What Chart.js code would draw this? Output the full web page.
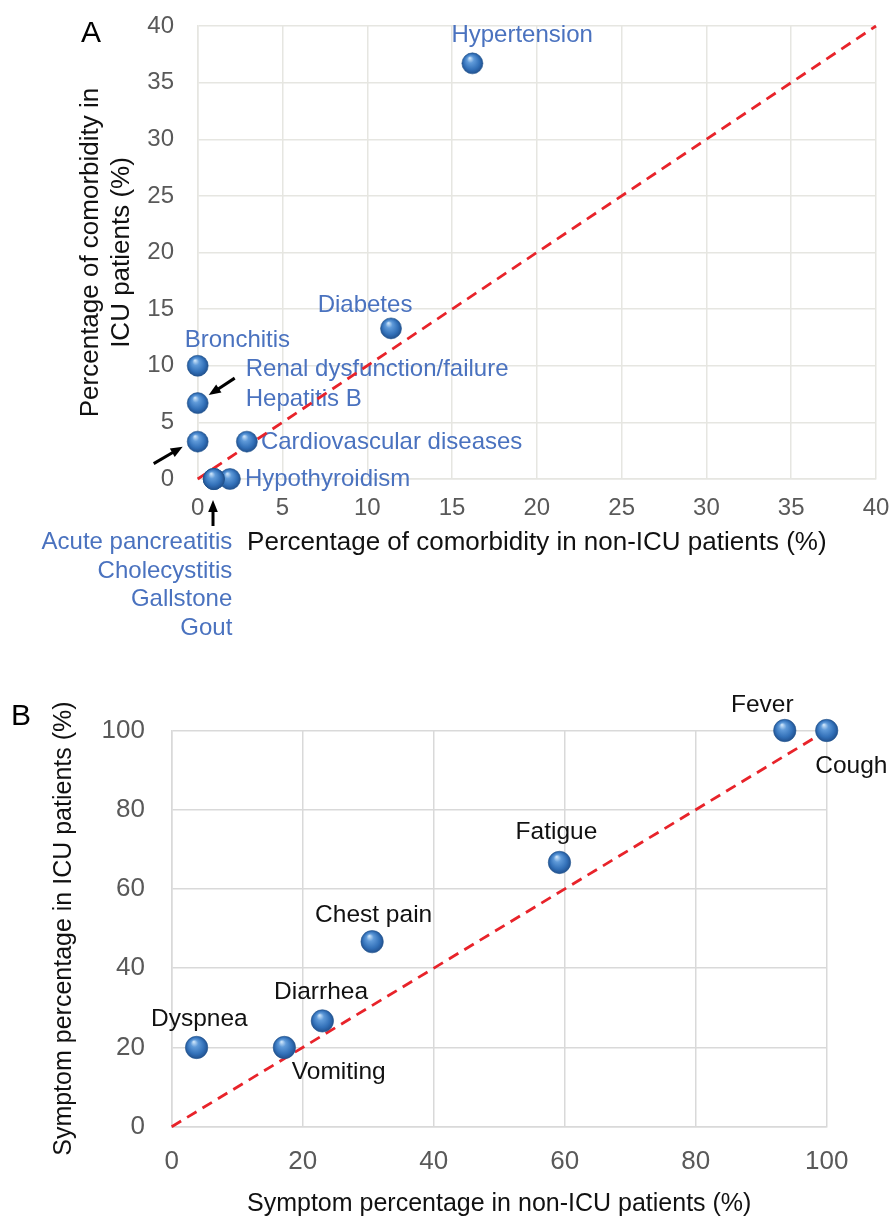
<!DOCTYPE html>
<html>
<head>
<meta charset="utf-8">
<script src="https://cdn.jsdelivr.net/npm/chart.js@4.4.0/dist/chart.umd.min.js"></script>
<style>
  body { margin: 0; background: #fff; }
  #wrap { position: relative; width: 891px; height: 1220px; }
  #panel-a { position: absolute; left: 0; top: 0; }
  #panel-b { position: absolute; left: 0; top: 650px; }
</style>
</head>
<body>
<div id="wrap">
  <canvas id="panel-a" width="891" height="650"></canvas>
  <canvas id="panel-b" width="891" height="570"></canvas>
</div>
<script>
// Panel A: comorbidities (% of patients)
const comorbidityNames = [
  "Hypertension",
  "Diabetes",
  "Bronchitis",
  "Renal dysfunction/failure",
  "Hepatitis B",
  "Cardiovascular diseases",
  "Hypothyroidism",
  "Acute pancreatitis",
  "Cholecystitis",
  "Gallstone",
  "Gout"
];
const comorbidityNonIcu = [16.2, 11.4, 0, 0, 0, 2.9, 1.9, 0.95, 0.95, 0.95, 0.95];
const comorbidityIcu = [36.7, 13.3, 10, 6.7, 3.3, 3.3, 0, 0, 0, 0, 0];
const comorbidityTicks = [0, 5, 10, 15, 20, 25, 30, 35, 40];

// Panel B: symptoms (% of patients)
const symptomNames = ["Fever", "Cough", "Fatigue", "Chest pain", "Diarrhea", "Dyspnea", "Vomiting"];
const symptomNonIcu = [93.6, 100, 59.2, 30.6, 23.0, 3.8, 17.2];
const symptomIcu = [100, 100, 66.7, 46.7, 26.7, 20, 20];
const symptomTicks = [0, 20, 40, 60, 80, 100];

// label placement relative to each marker (pixels)
const labelPlacementA = {
  "Hypertension": { dx: -21, dy: -28, align: "left" },
  "Diabetes": { dx: -26, dy: -23, align: "center" },
  "Bronchitis": { dx: -13, dy: -25, align: "left" },
  "Renal dysfunction/failure": { dx: 48, dy: -34, align: "left" },
  "Hepatitis B": { dx: 48, dy: -42, align: "left" },
  "Cardiovascular diseases": { dx: 14, dy: 1, align: "left" },
  "Hypothyroidism": { dx: 15, dy: 0, align: "left" },
  "Acute pancreatitis": { dx: 18.5, dy: 63.5, align: "right" },
  "Cholecystitis": { dx: 18.5, dy: 92, align: "right" },
  "Gallstone": { dx: 18.5, dy: 120.5, align: "right" },
  "Gout": { dx: 18.5, dy: 149, align: "right" }
};
const arrowsA = [
  { name: "Renal dysfunction/failure", from: [37, -25], to: [11, -8] },
  { name: "Hepatitis B", from: [-44, 22], to: [-15, 5] },
  { name: "Acute pancreatitis", from: [-0.8, 47], to: [-0.8, 21] }
];
const labelPlacementB = {
  "Fever": { dx: -22.5, dy: -25, align: "center" },
  "Cough": { dx: -11.5, dy: 36, align: "left" },
  "Fatigue": { dx: -3, dy: -30, align: "center" },
  "Chest pain": { dx: 1.5, dy: -26, align: "center" },
  "Diarrhea": { dx: -1.3, dy: -28.5, align: "center" },
  "Dyspnea": { dx: 2.8, dy: -28, align: "center" },
  "Vomiting": { dx: 7.4, dy: 25, align: "left" }
};

Chart.defaults.font.family = "'Liberation Sans', Arial, sans-serif";
Chart.defaults.animation = false;

const toPoints = (xs, ys) => xs.map((x, i) => ({ x: x, y: ys[i] }));

// blue glossy marker, gradient built around the point's own pixel position
const sphereFill = (radius) => (ctx) => {
  if (ctx.type !== "data" || !ctx.parsed) return "#3b74bd";
  const chart = ctx.chart;
  const px = chart.scales.x.getPixelForValue(ctx.parsed.x);
  const py = chart.scales.y.getPixelForValue(ctx.parsed.y);
  if (!isFinite(px) || !isFinite(py)) return "#3b74bd";
  const g = chart.ctx.createRadialGradient(
    px - radius * 0.25, py - radius * 0.5, radius * 0.05,
    px, py, radius * 1.05
  );
  g.addColorStop(0, "#c6e0f8");
  g.addColorStop(0.28, "#5f9ad9");
  g.addColorStop(0.7, "#3270b8");
  g.addColorStop(1, "#1f4d8a");
  return g;
};

const drawArrow = (c, x1, y1, x2, y2) => {
  const ang = Math.atan2(y2 - y1, x2 - x1);
  const head = 13;
  c.beginPath();
  c.moveTo(x1, y1);
  c.lineTo(x2 - Math.cos(ang) * head * 0.7, y2 - Math.sin(ang) * head * 0.7);
  c.stroke();
  c.beginPath();
  c.moveTo(x2, y2);
  c.lineTo(x2 - head * Math.cos(ang - 0.38), y2 - head * Math.sin(ang - 0.38));
  c.lineTo(x2 - head * Math.cos(ang + 0.38), y2 - head * Math.sin(ang + 0.38));
  c.closePath();
  c.fill();
};

const annotationPlugin = (names, placement, arrows, textColor, fontSize, panelLetter) => ({
  id: "pointLabels",
  beforeDatasetsDraw(chart) {
    const c = chart.ctx;
    const meta = chart.getDatasetMeta(0);
    c.save();
    c.font = fontSize + "px 'Liberation Sans', Arial, sans-serif";
    c.fillStyle = textColor;
    c.textBaseline = "middle";
    names.forEach((name, i) => {
      const el = meta.data[i];
      const p = placement[name];
      if (!el || !p) return;
      c.textAlign = p.align;
      c.fillText(name, el.x + p.dx, el.y + p.dy);
    });
    c.strokeStyle = "#000";
    c.fillStyle = "#000";
    c.lineWidth = 3;
    arrows.forEach((a) => {
      const el = meta.data[names.indexOf(a.name)];
      drawArrow(c, el.x + a.from[0], el.y + a.from[1], el.x + a.to[0], el.y + a.to[1]);
    });
    c.font = "30px 'Liberation Sans', Arial, sans-serif";
    c.textAlign = "center";
    c.fillStyle = "#000";
    c.fillText(panelLetter.text, panelLetter.x, panelLetter.y);
    c.restore();
  }
});

const buildConfig = (opts) => ({
  type: "scatter",
  data: {
    datasets: [
      {
        data: toPoints(opts.xs, opts.ys),
        clip: false,
        pointRadius: opts.radius,
        pointHoverRadius: opts.radius,
        pointBackgroundColor: sphereFill(opts.radius),
        pointBorderColor: "#23568f",
        pointBorderWidth: 0.6
      },
      {
        type: "line",
        data: [
          { x: opts.ticks[0], y: opts.ticks[0] },
          { x: opts.ticks[opts.ticks.length - 1], y: opts.ticks[opts.ticks.length - 1] }
        ],
        clip: false,
        borderColor: "#e8232a",
        borderWidth: 2.8,
        borderDash: [11, 7],
        pointRadius: 0,
        fill: false
      }
    ]
  },
  options: {
    responsive: false,
    maintainAspectRatio: false,
    layout: { padding: opts.padding },
    plugins: { legend: { display: false }, tooltip: { enabled: false } },
    scales: {
      x: {
        type: "linear",
        min: opts.ticks[0],
        max: opts.ticks[opts.ticks.length - 1],
        afterBuildTicks: (axis) => { axis.ticks = opts.ticks.map((v) => ({ value: v })); },
        afterFit: (scale) => {
          scale.height = opts.xHeight;
          scale.paddingLeft = 0;
          scale.paddingRight = 0;
        },
        grid: { color: opts.gridColor, lineWidth: 1.5, drawTicks: false },
        border: { color: opts.gridColor, width: 1.5 },
        ticks: { color: "#595959", font: { size: opts.tickSize }, padding: opts.xTickPad, autoSkip: false, maxRotation: 0 },
        title: {
          display: true,
          text: opts.xTitle,
          color: "#111",
          font: { size: opts.xTitleSize },
          padding: { top: 0, bottom: 0 }
        }
      },
      y: {
        type: "linear",
        min: opts.ticks[0],
        max: opts.ticks[opts.ticks.length - 1],
        afterBuildTicks: (axis) => { axis.ticks = opts.ticks.map((v) => ({ value: v })); },
        afterFit: (scale) => {
          scale.width = opts.yWidth;
          scale.paddingTop = 0;
          scale.paddingBottom = 0;
        },
        grid: { color: opts.gridColor, lineWidth: 1.5, drawTicks: false },
        border: { color: opts.gridColor, width: 1.5 },
        ticks: { color: "#595959", font: { size: opts.tickSize }, padding: opts.yTickPad },
        title: {
          display: true,
          text: opts.yTitle,
          color: "#111",
          font: { size: opts.yTitleSize },
          padding: { top: opts.yTitlePad, bottom: 0 }
        }
      }
    }
  },
  plugins: [opts.plugin]
});

new Chart(document.getElementById("panel-a"), buildConfig({
  xs: comorbidityNonIcu,
  ys: comorbidityIcu,
  ticks: comorbidityTicks,
  radius: 10.5,
  padding: { left: 0, top: 26, right: 15, bottom: 91.1 },
  xHeight: 79.9,
  yWidth: 197.7,
  gridColor: "#e6e6e1",
  tickSize: 24,
  xTickPad: 14.6,
  yTickPad: 23.7,
  xTitle: "Percentage of comorbidity in non-ICU patients (%)",
  xTitleSize: 26,
  yTitle: ["Percentage of comorbidity in", "ICU patients (%)"],
  yTitleSize: 26,
  yTitlePad: 75.4,
  plugin: annotationPlugin(comorbidityNames, labelPlacementA, arrowsA, "#4a72bf", 24,
    { text: "A", x: 91, y: 34 })
}));

new Chart(document.getElementById("panel-b"), buildConfig({
  xs: symptomNonIcu,
  ys: symptomIcu,
  ticks: symptomTicks,
  radius: 11.2,
  padding: { left: 0, top: 80.5, right: 64.3, bottom: 0.4 },
  xHeight: 92.9,
  yWidth: 171.7,
  gridColor: "#d9d9d9",
  tickSize: 26,
  xTickPad: 19.5,
  yTickPad: 26.7,
  xTitle: "Symptom percentage in non-ICU patients (%)",
  xTitleSize: 25,
  yTitle: "Symptom percentage in ICU patients (%)",
  yTitleSize: 25,
  yTitlePad: 49.3,
  plugin: annotationPlugin(symptomNames, labelPlacementB, [], "#111", 24.5,
    { text: "B", x: 21, y: 67 })
}));
</script>
</body>
</html>
